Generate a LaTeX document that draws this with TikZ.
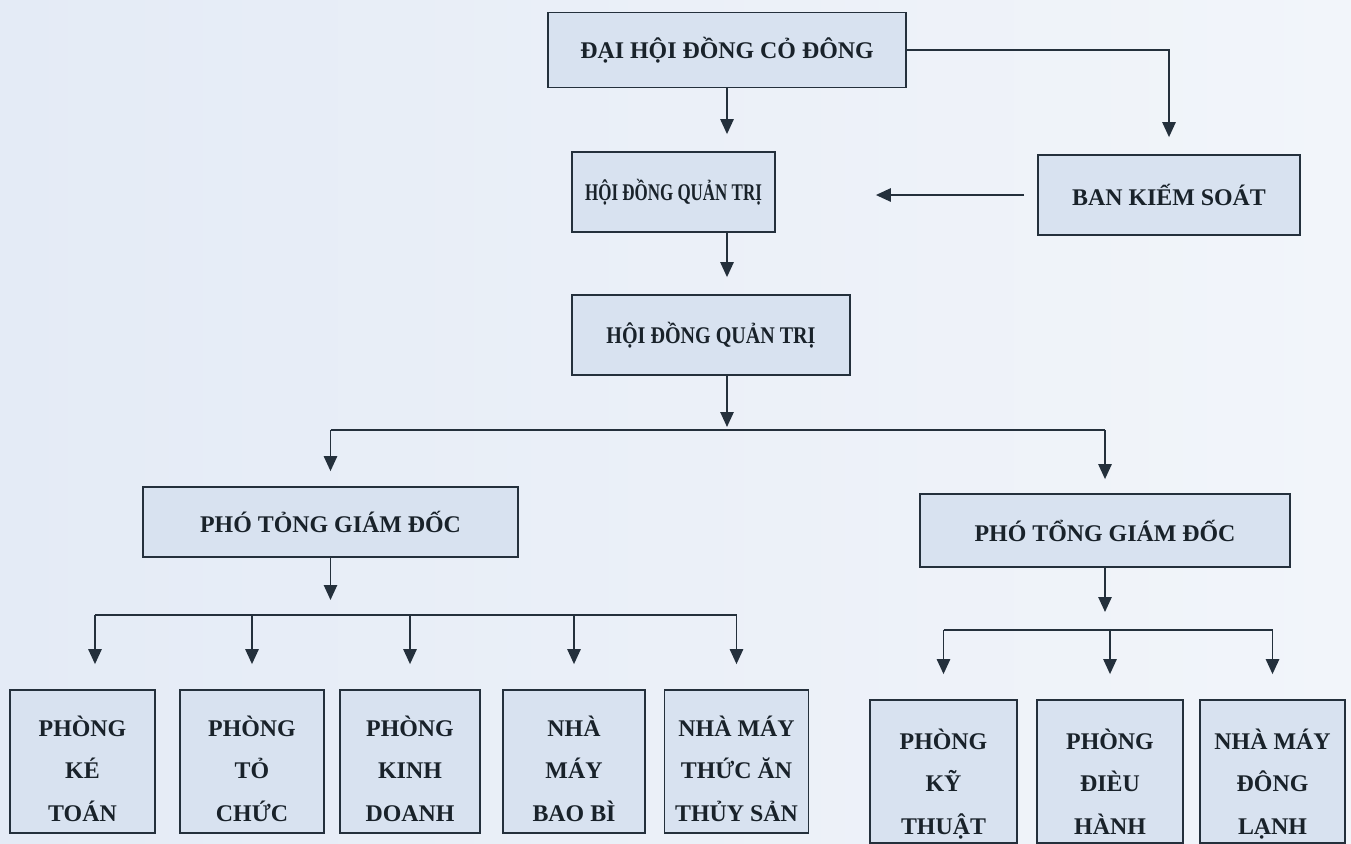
\documentclass[tikz,border=0pt]{standalone}
\usepackage{fontspec}
\usepackage{graphicx}
\setmainfont{Liberation Serif}
\usetikzlibrary{arrows.meta}

\definecolor{paperleft}{RGB}{228,235,246}
\definecolor{paperright}{RGB}{242,245,250}
\definecolor{boxfill}{RGB}{216,226,240}
\definecolor{ink}{RGB}{36,48,60}

% three stacked lines, set a little below the middle of the box
\newcommand{\unitlines}[2][0.18cm]{%
  \raisebox{-#1}[\height][\depth]{\begin{tabular}{@{}c@{}}#2\end{tabular}}}

\begin{document}
\begin{tikzpicture}[
  x=0.02cm, y=-0.02cm,
  every node/.style = {
    shape=rectangle,
    draw=ink,
    line width=1pt,
    fill=boxfill,
    align=center,
    text=ink!70!black,
    inner sep=0pt,
    font=\fontsize{13.6}{24}\selectfont\bfseries
  },
  unit/.style = {minimum width=2.88cm, minimum height=2.86cm},
  arr/.style = {draw=ink, line width=1.1pt, -{Triangle[width=7.5pt,length=8.5pt]}},
  bus/.style = {draw=ink, line width=1.1pt}
]

\useasboundingbox (0,0) rectangle (1351,843);
\shade[left color=paperleft, right color=paperright] (0,0) rectangle (1351,843);

% top levels
\node[minimum width=7.16cm, minimum height=1.5cm] (dhdcd) at (727,50) {ĐẠI HỘI ĐỒNG CỎ ĐÔNG};
\node[minimum width=4.06cm, minimum height=1.6cm] (hdqt1) at (673.5,192) {\scalebox{0.71}[1]{HỘI ĐỒNG QUẢN TRỊ}};
\node[minimum width=5.24cm, minimum height=1.6cm] (bks) at (1169,195) {BAN KIẾM SOÁT};
\node[minimum width=5.56cm, minimum height=1.6cm] (hdqt2) at (711,335) {\scalebox{0.84}[1]{HỘI ĐỒNG QUẢN TRỊ}};

% deputies
\node[minimum width=7.5cm, minimum height=1.4cm] (ptgd1) at (330.5,522) {PHÓ TỎNG GIÁM ĐỐC};
\node[minimum width=7.4cm, minimum height=1.46cm] (ptgd2) at (1105,530.5) {PHÓ TỔNG GIÁM ĐỐC};

% units, left
\node[unit, minimum width=2.9cm] (pkt) at (82.5,761.5) {\unitlines{PHÒNG\\KÉ\\TOÁN}};
\node[unit] (ptc) at (252,761.5) {\unitlines{PHÒNG\\TỎ\\CHỨC}};
\node[unit, minimum width=2.8cm] (pkd) at (410,761.5) {\unitlines{PHÒNG\\KINH\\DOANH}};
\node[unit, minimum width=2.84cm] (nmbb) at (574,761.5) {\unitlines{NHÀ\\MÁY\\BAO BÌ}};
\node[unit] (nmta) at (736.5,761.5) {\unitlines{NHÀ MÁY\\THỨC ĂN\\THỦY SẢN}};

% units, right
\node[unit, minimum width=2.94cm] (pkth) at (943.5,771.5) {\unitlines[0.24cm]{PHÒNG\\KỸ\\THUẬT}};
\node[unit, minimum width=2.92cm] (pdh) at (1110,771.5) {\unitlines[0.24cm]{PHÒNG\\ĐIÈU\\HÀNH}};
\node[unit, minimum width=2.9cm] (nmdl) at (1272.5,771.5) {\unitlines[0.24cm]{NHÀ MÁY\\ĐÔNG\\LẠNH}};

\coordinate (split1) at (727,430);
\coordinate (split2) at (330.5,615);
\coordinate (split3) at (1105,630);

% connectors, top
\draw[arr, shorten >=0.34cm] (dhdcd.south) -- (dhdcd.south |- hdqt1.north);
\draw[arr, shorten >=0.34cm] (dhdcd.east) -| (bks.north);
\draw[arr, shorten <=0.26cm, shorten >=2cm] (bks.west) -- (bks.west -| hdqt1.east);
\draw[arr, shorten >=0.34cm] (hdqt1.south -| dhdcd.south) -- (hdqt2.north -| dhdcd.south);
\draw[arr, shorten >=0.06cm] (hdqt2.south -| split1) -- (split1);

% connectors, deputies
\draw[bus] (ptgd1.north |- split1) -- (ptgd2.north |- split1);
\draw[arr, shorten >=0.3cm] (ptgd1.north |- split1) -- (ptgd1.north);
\draw[arr, shorten >=0.28cm] (ptgd2.north |- split1) -- (ptgd2.north);

% connectors, left units
\draw[arr, shorten >=0.3cm] (ptgd1.south) -- (split2);
\draw[bus] ([xshift=0.25cm]pkt.north |- split2) -- (nmta.north |- split2);
\draw[arr, shorten >=0.5cm] ([xshift=0.25cm]pkt.north |- split2) -- ([xshift=0.25cm]pkt.north);
\draw[arr, shorten >=0.5cm] (ptc.north |- split2) -- (ptc.north);
\draw[arr, shorten >=0.5cm] (pkd.north |- split2) -- (pkd.north);
\draw[arr, shorten >=0.5cm] (nmbb.north |- split2) -- (nmbb.north);
\draw[arr, shorten >=0.5cm] (nmta.north |- split2) -- (nmta.north);

% connectors, right units
\draw[arr, shorten >=0.36cm] (ptgd2.south) -- (split3);
\draw[bus] (pkth.north |- split3) -- (nmdl.north |- split3);
\draw[arr, shorten >=0.5cm] (pkth.north |- split3) -- (pkth.north);
\draw[arr, shorten >=0.5cm] (pdh.north |- split3) -- (pdh.north);
\draw[arr, shorten >=0.5cm] (nmdl.north |- split3) -- (nmdl.north);

\end{tikzpicture}
\end{document}
